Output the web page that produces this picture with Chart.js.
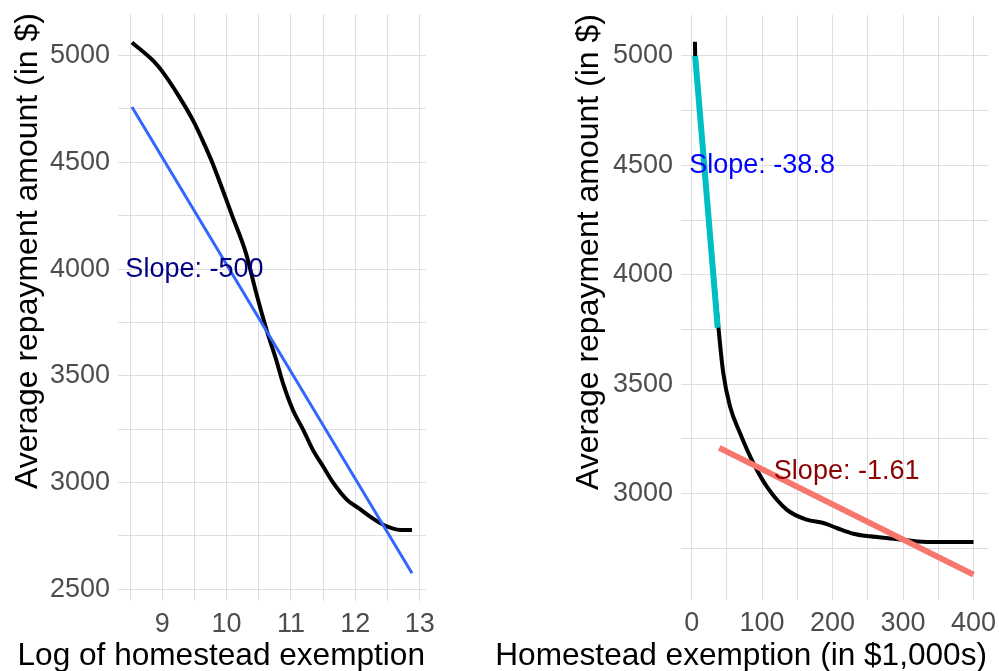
<!DOCTYPE html>
<html>
<head>
<meta charset="utf-8">
<script src="https://cdn.jsdelivr.net/npm/chart.js@4/dist/chart.umd.min.js"></script>
<style>
  html, body { margin: 0; padding: 0; background: #ffffff; }
  body { width: 999px; height: 671px; position: relative; overflow: hidden; }
  #wl { position: absolute; left: 0; top: 0; width: 450px; height: 671px; }
  #wr { position: absolute; left: 470px; top: 0; width: 529px; height: 671px; }
</style>
</head>
<body>
<div id="wl"><canvas id="cl"></canvas></div>
<div id="wr"><canvas id="cr"></canvas></div>
<script>
// ---------- Left panel data ----------
const leftSmoothX = [8.53, 8.87, 9.00, 9.26, 9.50, 9.68, 9.78, 10.09, 10.30, 10.46, 10.62, 10.77, 10.875, 11.03, 11.19, 11.34, 11.50, 11.66, 11.87, 12.05, 12.23, 12.44, 12.70, 12.88];
const leftSmoothY = [5062, 4973, 4926, 4809, 4684, 4567, 4497, 4247, 4075, 3888, 3716, 3575, 3466, 3340, 3247, 3153, 3075, 2997, 2919, 2880, 2840, 2801, 2778, 2778];
const leftFitX = [8.53, 12.88];
const leftFitY = [4759, 2575];
const leftXTicks = [8.5, 9, 9.5, 10, 10.5, 11, 11.5, 12, 12.5, 13];
const leftXLabels = [9, 10, 11, 12, 13];
const leftYTicks = [2500, 2750, 3000, 3250, 3500, 3750, 4000, 4250, 4500, 4750, 5000];
const leftYLabels = [2500, 3000, 3500, 4000, 4500, 5000];
const leftNote = { text: "Slope: -500", x: 9.5, y: 4000, color: "#000080" };
const leftXTitle = "Log of homestead exemption";

// ---------- Right panel data ----------
const rightSmoothX = [4.7, 5, 6, 20, 38, 44.9, 54.4, 68.6, 87.5, 106.5, 134.9, 163.4, 187, 206, 229.5, 253, 286.4, 333.8, 400];
const rightSmoothY = [5065, 5000, 4961, 4418, 3760, 3551, 3399, 3277, 3140, 3033, 2927, 2881, 2866, 2843, 2817, 2805, 2794, 2779, 2779];
const rightLowFitX = [5, 37];
const rightLowFitY = [5000, 3758];
const rightHighFitX = [39.2, 400];
const rightHighFitY = [3209, 2630];
const rightXTicks = [0, 50, 100, 150, 200, 250, 300, 350, 400];
const rightXLabels = [0, 100, 200, 300, 400];
const rightYTicks = [2750, 3000, 3250, 3500, 3750, 4000, 4250, 4500, 4750, 5000];
const rightYLabels = [3000, 3500, 4000, 4500, 5000];
const rightNotes = [
  { text: "Slope: -38.8", x: 100, y: 4500, color: "#0000FF" },
  { text: "Slope: -1.61", x: 220, y: 3100, color: "#8B0000" }
];
const rightXTitle = "Homestead exemption (in $1,000s)";
const yTitle = "Average repayment amount (in $)";

const FONT = "'Liberation Sans', Arial, sans-serif";
const pts = (xs, ys) => xs.map((x, i) => ({ x: x, y: ys[i] }));

const notesPlugin = {
  id: 'notes',
  afterDatasetsDraw(chart, args, opts) {
    const ctx = chart.ctx;
    const xs = chart.scales.x, ys = chart.scales.y;
    ctx.save();
    ctx.font = "27px " + FONT;
    ctx.textAlign = 'center';
    ctx.textBaseline = 'middle';
    (opts.items || []).forEach(n => {
      ctx.fillStyle = n.color;
      ctx.fillText(n.text, xs.getPixelForValue(n.x), ys.getPixelForValue(n.y));
    });
    ctx.restore();
  }
};

// axis titles: x title right-aligned to plot right edge, y title top-aligned to plot top
const titlesPlugin = {
  id: 'titles',
  afterDraw(chart, args, opts) {
    const ctx = chart.ctx;
    const area = chart.chartArea;
    ctx.save();
    ctx.fillStyle = '#000000';
    ctx.textBaseline = 'alphabetic';
    ctx.textAlign = 'right';
    ctx.font = "31.6px " + FONT;
    ctx.fillText(opts.xTitle, area.right - 1, 665);
    ctx.font = "32px " + FONT;
    ctx.translate(opts.yBase, area.top - 1);
    ctx.rotate(-Math.PI / 2);
    ctx.textAlign = 'right';
    ctx.fillText(opts.yTitle, 0, 0);
    ctx.restore();
  }
};

function makeOptions(cfg) {
  return {
    responsive: true,
    maintainAspectRatio: false,
    animation: false,
    layout: { padding: { top: cfg.padTop, right: cfg.padRight, left: 0, bottom: 0 } },
    plugins: {
      legend: { display: false }, tooltip: { enabled: false },
      notes: { items: cfg.notes },
      titles: { xTitle: cfg.xTitle, yTitle: yTitle, yBase: cfg.yBase }
    },
    elements: { point: { radius: 0 } },
    scales: {
      x: {
        type: 'linear',
        min: cfg.xmin, max: cfg.xmax,
        afterBuildTicks: s => { s.ticks = cfg.xTicks.map(v => ({ value: v })); },
        afterFit: s => { s.height = cfg.xAxisH; s.paddingLeft = 0; s.paddingRight = 0; },
        grid: { color: '#DEDEDE', lineWidth: 1, drawTicks: false },
        border: { display: false },
        ticks: {
          autoSkip: false, maxRotation: 0, padding: 7,
          color: '#4D4D4D', font: { family: FONT, size: 27 },
          callback: v => cfg.xLabels.includes(v) ? String(v) : ''
        },
        title: { display: false }
      },
      y: {
        type: 'linear',
        min: cfg.ymin, max: cfg.ymax,
        afterBuildTicks: s => { s.ticks = cfg.yTicks.map(v => ({ value: v })); },
        afterFit: s => { s.width = cfg.yAxisW; s.paddingTop = 0; s.paddingBottom = 0; },
        grid: { color: '#DEDEDE', lineWidth: 1, drawTicks: false },
        border: { display: false },
        ticks: {
          autoSkip: false, padding: 8,
          color: '#4D4D4D', font: { family: FONT, size: 27 },
          callback: v => cfg.yLabels.includes(v) ? String(v) : ''
        },
        title: { display: false }
      }
    }
  };
}

new Chart(document.getElementById('cl'), {
  type: 'scatter',
  data: {
    datasets: [
      { data: pts(leftSmoothX, leftSmoothY), showLine: true, borderColor: '#000000', borderWidth: 4,
        cubicInterpolationMode: 'monotone', pointRadius: 0, order: 2 },
      { data: pts(leftFitX, leftFitY), showLine: true, borderColor: '#3366FF', borderWidth: 3,
        pointRadius: 0, order: 1 }
    ]
  },
  options: makeOptions({
    padTop: 14, padRight: 24, xAxisH: 70, yAxisW: 118, yBase: 37,
    xmin: 8.313, xmax: 13.097, ymin: 2445, ymax: 5195,
    xTicks: leftXTicks, xLabels: leftXLabels, yTicks: leftYTicks, yLabels: leftYLabels,
    xTitle: leftXTitle, notes: [leftNote]
  }),
  plugins: [notesPlugin, titlesPlugin]
});

new Chart(document.getElementById('cr'), {
  type: 'scatter',
  data: {
    datasets: [
      { data: pts(rightSmoothX, rightSmoothY), showLine: true, borderColor: '#000000', borderWidth: 4,
        cubicInterpolationMode: 'monotone', pointRadius: 0, order: 3 },
      { data: pts(rightLowFitX, rightLowFitY), showLine: true, borderColor: '#00BFC4', borderWidth: 6,
        pointRadius: 0, order: 2 },
      { data: pts(rightHighFitX, rightHighFitY), showLine: true, borderColor: '#F8766D', borderWidth: 6,
        pointRadius: 0, order: 1 }
    ]
  },
  options: makeOptions({
    padTop: 15, padRight: 11, xAxisH: 71, yAxisW: 211, yBase: 128,
    xmin: -15.1, xmax: 420.6, ymin: 2514, ymax: 5187,
    xTicks: rightXTicks, xLabels: rightXLabels, yTicks: rightYTicks, yLabels: rightYLabels,
    xTitle: rightXTitle, notes: rightNotes
  }),
  plugins: [notesPlugin, titlesPlugin]
});
</script>
</body>
</html>
